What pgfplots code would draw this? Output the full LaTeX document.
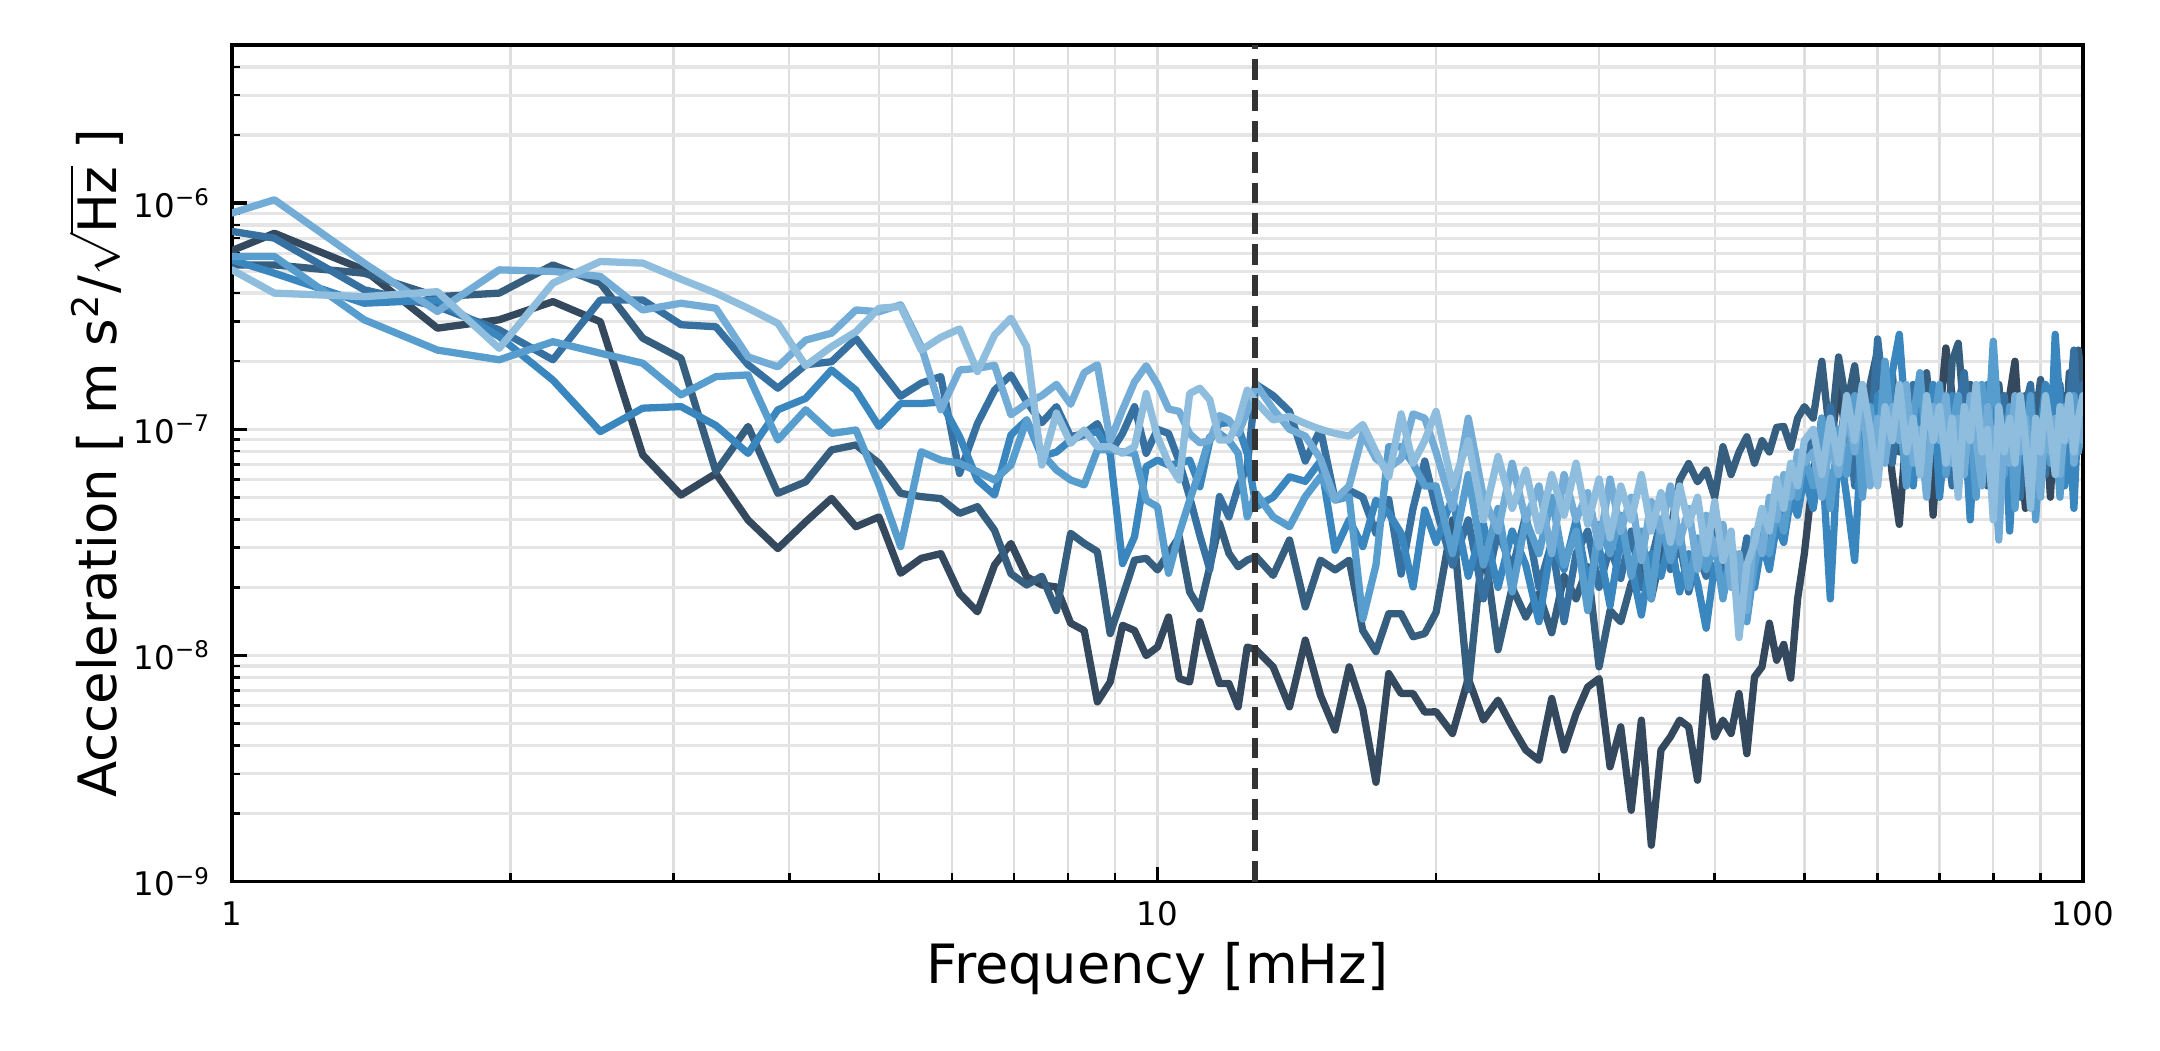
\documentclass[border=0pt]{standalone}
\usepackage{pgfplots}
\pgfplotsset{compat=1.18}
\usepackage{pgfplotstable}
\usepackage{fontspec}
\setmainfont{DejaVu Sans}
\definecolor{c1}{HTML}{34495E}
\definecolor{c2}{HTML}{365F7F}
\definecolor{c3}{HTML}{3671A2}
\definecolor{c4}{HTML}{3A87C0}
\definecolor{c5}{HTML}{579DCE}
\definecolor{c6}{HTML}{73ADD7}
\definecolor{c7}{HTML}{8FBDDD}
\newcommand{\tsup}[1]{\textsuperscript{\fontsize{5.5}{6}\selectfont #1}}
\pgfplotstableread{
f s1 s2 s3 s4 s5 s6 s7
1.000 6.17e-7 5.33e-7 7.50e-7 5.61e-7 5.81e-7 9.04e-7 5.07e-7
1.111 7.36e-7 5.33e-7 7.00e-7 4.90e-7 5.81e-7 1.035e-6 4.00e-7
1.389 5.07e-7 4.90e-7 4.14e-7 3.61e-7 3.05e-7 5.43e-7 3.86e-7
1.667 2.80e-7 3.86e-7 3.49e-7 3.73e-7 2.24e-7 3.32e-7 4.06e-7
1.944 3.05e-7 4.00e-7 2.75e-7 2.57e-7 2.03e-7 5.07e-7 2.28e-7
2.222 3.67e-7 5.33e-7 2.03e-7 1.65e-7 2.44e-7 4.99e-7 4.43e-7
2.500 2.99e-7 4.43e-7 3.73e-7 9.77e-8 2.17e-7 4.74e-7 5.52e-7
2.778 7.71e-8 2.53e-7 3.73e-7 1.24e-7 1.96e-7 3.37e-7 5.43e-7
3.056 5.12e-8 2.06e-7 2.90e-7 1.26e-7 1.42e-7 3.61e-7 4.61e-7
3.333 6.38e-8 6.49e-8 2.84e-7 1.04e-7 1.71e-7 3.43e-7 4.00e-7
3.611 3.97e-8 1.03e-7 1.93e-7 7.83e-8 1.74e-7 2.09e-7 3.43e-7
3.889 2.97e-8 5.21e-8 1.52e-7 1.22e-7 8.97e-8 1.89e-7 2.94e-7
4.167 3.90e-8 5.86e-8 1.93e-7 1.37e-7 1.22e-7 2.48e-7 1.91e-7
4.444 4.95e-8 8.11e-8 1.99e-7 1.83e-7 9.59e-8 2.66e-7 2.32e-7
4.722 3.71e-8 8.53e-8 2.52e-7 1.49e-7 9.93e-8 3.37e-7 2.70e-7
5.000 4.10e-8 7.08e-8 1.86e-7 1.03e-7 5.68e-8 3.31e-7 3.43e-7
5.278 2.31e-8 5.21e-8 1.40e-7 1.30e-7 3.03e-8 3.55e-7 3.49e-7
5.556 2.69e-8 5.04e-8 1.60e-7 1.30e-7 7.96e-8 2.32e-7 2.24e-7
5.833 2.82e-8 4.94e-8 1.71e-7 1.32e-7 7.31e-8 1.22e-7 2.55e-7
6.111 1.88e-8 4.25e-8 6.38e-8 9.29e-8 7.08e-8 1.83e-7 2.78e-7
6.389 1.56e-8 4.55e-8 1.06e-7 5.97e-8 6.50e-8 1.86e-7 1.80e-7
6.667 2.51e-8 3.58e-8 1.49e-7 5.12e-8 5.97e-8 1.92e-7 2.61e-7
6.944 3.13e-8 2.30e-8 1.74e-7 9.44e-8 6.95e-8 1.16e-7 3.10e-7
7.222 2.23e-8 2.05e-8 1.32e-7 1.10e-7 1.10e-7 1.30e-7 2.32e-7
7.500 2.05e-8 2.24e-8 1.07e-7 7.59e-8 7.83e-8 1.41e-7 6.95e-8
7.778 2.01e-8 1.58e-8 1.26e-7 7.94e-8 6.61e-8 1.58e-7 1.18e-7
8.056 1.39e-8 3.47e-8 9.27e-8 8.97e-8 5.97e-8 1.29e-7 8.67e-8
8.333 1.29e-8 3.13e-8 9.59e-8 9.44e-8 5.68e-8 1.78e-7 9.93e-8
8.611 6.24e-9 2.88e-8 1.06e-7 9.77e-8 8.11e-8 1.93e-7 8.38e-8
8.889 7.64e-9 1.25e-8 7.83e-8 7.83e-8 8.13e-8 8.91e-8 8.38e-8
9.167 1.36e-8 1.82e-8 9.59e-8 2.55e-8 7.94e-8 1.22e-7 7.83e-8
9.444 1.29e-8 2.64e-8 1.26e-7 3.35e-8 7.83e-8 1.62e-7 8.38e-8
9.722 1.00e-8 2.69e-8 7.83e-8 6.84e-8 4.86e-8 1.91e-7 1.44e-7
10.000 1.09e-8 2.39e-8 1.00e-7 7.31e-8 4.54e-8 1.58e-7 9.27e-8
10.278 1.48e-8 2.83e-8 9.59e-8 6.95e-8 2.31e-8 1.23e-7 7.08e-8
10.556 7.91e-9 3.35e-8 7.19e-8 7.08e-8 3.47e-8 1.20e-7 5.97e-8
10.833 7.64e-9 1.91e-8 5.01e-8 7.31e-8 4.86e-8 9.55e-8 1.44e-7
11.111 1.41e-8 1.61e-8 3.39e-8 5.57e-8 6.61e-8 8.71e-8 1.52e-7
11.389 1.02e-8 2.47e-8 2.40e-8 8.91e-8 9.27e-8 8.91e-8 1.35e-7
11.667 7.52e-9 3.84e-8 5.04e-8 1.06e-7 9.59e-8 1.15e-7 8.97e-8
11.944 7.52e-9 2.83e-8 4.10e-8 1.07e-7 8.91e-8 1.10e-7 8.97e-8
12.222 5.93e-9 2.47e-8 5.57e-8 1.03e-7 7.83e-8 9.55e-8 1.08e-7
12.500 1.09e-8 2.64e-8 6.84e-8 7.83e-8 4.10e-8 1.20e-7 1.49e-7
12.778 1.06e-8 2.74e-8 1.58e-7 4.54e-8 5.21e-8 1.58e-7 1.32e-7
13.333 8.91e-9 2.26e-8 1.41e-7 5.01e-8 4.10e-8 1.23e-7 1.10e-7
13.889 5.93e-9 3.24e-8 1.20e-7 6.17e-8 3.71e-8 1.00e-7 1.14e-7
14.444 1.17e-8 1.64e-8 7.24e-8 5.89e-8 5.04e-8 9.33e-8 1.06e-7
15.000 6.67e-9 2.64e-8 1.00e-7 7.24e-8 6.17e-8 7.41e-8 1.00e-7
15.556 4.68e-9 2.39e-8 4.90e-8 2.92e-8 4.86e-8 4.90e-8 9.59e-8
16.111 8.91e-9 2.64e-8 5.37e-8 3.98e-8 5.04e-8 5.62e-8 9.33e-8
16.667 5.82e-9 1.29e-8 5.01e-8 3.03e-8 1.45e-8 9.55e-8 1.05e-7
17.222 2.75e-9 1.04e-8 3.47e-8 4.86e-8 2.51e-8 7.41e-8 7.94e-8
17.778 8.32e-9 1.53e-8 4.90e-8 4.25e-8 8.38e-8 6.76e-8 6.17e-8
18.333 6.79e-9 1.53e-8 2.29e-8 3.47e-8 8.38e-8 7.41e-8 1.17e-7
18.889 6.79e-9 1.21e-8 4.47e-8 2.01e-8 7.06e-8 1.17e-7 7.08e-8
19.444 5.62e-9 1.25e-8 7.24e-8 4.40e-8 5.62e-8 1.12e-7 8.91e-8
20.000 5.64e-9 1.55e-8 4.47e-8 3.16e-8 5.62e-8 7.94e-8 1.20e-7
20.833 4.52e-9 3.98e-8 2.51e-8 5.01e-8 2.82e-8 4.47e-8 5.62e-8
21.667 7.91e-9 7.08e-9 3.98e-8 2.24e-8 6.31e-8 1.12e-7 8.91e-8
22.500 5.18e-9 3.24e-8 1.78e-8 3.80e-8 2.51e-8 5.01e-8 3.98e-8
23.333 6.35e-9 1.06e-8 3.55e-8 2.00e-8 4.47e-8 3.55e-8 7.59e-8
24.167 4.84e-9 2.00e-8 2.40e-8 3.55e-8 1.91e-8 7.08e-8 4.47e-8
25.000 3.82e-9 1.48e-8 4.17e-8 2.51e-8 3.98e-8 3.98e-8 6.61e-8
25.833 3.44e-9 1.88e-8 2.00e-8 1.41e-8 2.82e-8 5.62e-8 3.55e-8
26.667 6.46e-9 1.26e-8 3.16e-8 3.16e-8 5.01e-8 2.82e-8 6.31e-8
27.500 3.82e-9 2.24e-8 1.41e-8 2.40e-8 2.51e-8 6.31e-8 4.17e-8
28.333 5.53e-9 1.78e-8 2.82e-8 3.98e-8 3.55e-8 3.98e-8 7.08e-8
29.167 7.26e-9 2.47e-8 3.55e-8 2.09e-8 1.58e-8 5.25e-8 3.80e-8
30.000 7.91e-9 8.91e-9 2.00e-8 3.02e-8 3.80e-8 3.02e-8 6.03e-8
30.833 3.22e-9 1.58e-8 3.02e-8 1.66e-8 2.82e-8 6.03e-8 3.31e-8
31.667 4.84e-9 1.41e-8 2.19e-8 3.31e-8 4.17e-8 3.55e-8 5.62e-8
32.500 2.07e-9 2.08e-8 3.55e-8 2.51e-8 2.24e-8 5.01e-8 3.98e-8
33.333 5.18e-9 2.51e-8 2.00e-8 1.51e-8 3.55e-8 2.63e-8 6.31e-8
34.167 1.45e-9 1.78e-8 2.63e-8 2.82e-8 1.78e-8 4.79e-8 3.55e-8
35.000 3.82e-9 2.82e-8 3.98e-8 2.24e-8 3.98e-8 3.55e-8 5.25e-8
35.833 4.37e-9 3.55e-8 2.40e-8 3.31e-8 2.63e-8 5.62e-8 3.16e-8
36.667 5.18e-9 5.97e-8 3.16e-8 1.91e-8 3.55e-8 3.16e-8 5.62e-8
37.500 4.84e-9 7.06e-8 1.91e-8 2.82e-8 2.00e-8 4.47e-8 3.80e-8
38.333 2.81e-9 5.86e-8 2.82e-8 2.09e-8 3.31e-8 2.40e-8 5.01e-8
39.167 8.04e-9 6.61e-8 2.24e-8 1.32e-8 2.40e-8 4.17e-8 2.82e-8
40.000 4.37e-9 5.01e-8 3.55e-8 2.51e-8 3.16e-8 2.82e-8 4.79e-8
40.833 5.18e-9 8.38e-8 2.40e-8 2.00e-8 1.78e-8 3.80e-8 2.63e-8
41.667 4.52e-9 6.31e-8 3.16e-8 2.82e-8 2.82e-8 2.00e-8 3.55e-8
42.500 6.79e-9 7.94e-8 2.09e-8 1.78e-8 2.00e-8 2.82e-8 1.20e-8
43.333 3.68e-9 9.27e-8 3.31e-8 2.40e-8 1.41e-8 1.58e-8 2.51e-8
44.167 8.04e-9 7.08e-8 2.82e-8 2.00e-8 2.51e-8 3.55e-8 3.16e-8
45.000 8.91e-9 8.91e-8 3.98e-8 3.16e-8 3.55e-8 2.82e-8 4.47e-8
45.833 1.39e-8 7.94e-8 3.31e-8 2.40e-8 2.82e-8 5.01e-8 3.55e-8
46.667 9.53e-9 1.02e-7 5.01e-8 3.80e-8 4.47e-8 3.98e-8 6.03e-8
47.500 1.12e-8 1.03e-7 4.17e-8 3.16e-8 3.55e-8 6.31e-8 4.47e-8
48.333 7.94e-9 8.32e-8 6.03e-8 5.01e-8 5.62e-8 5.01e-8 7.08e-8
49.167 1.78e-8 1.12e-7 5.25e-8 4.17e-8 5.01e-8 7.94e-8 5.62e-8
50.000 2.82e-8 1.26e-7 7.94e-8 6.31e-8 7.59e-8 7.08e-8 8.91e-8
51.111 6.31e-8 1.12e-7 8.91e-8 4.47e-8 5.62e-8 7.94e-8 1.00e-7
52.222 1.12e-7 2.00e-7 6.31e-8 7.94e-8 1.12e-7 5.01e-8 6.31e-8
53.333 7.94e-8 8.91e-8 1.26e-7 1.78e-8 4.47e-8 8.91e-8 1.12e-7
54.444 1.58e-7 2.09e-7 7.94e-8 8.91e-8 1.00e-7 6.31e-8 7.08e-8
55.556 8.91e-8 1.26e-7 1.41e-7 5.01e-8 6.31e-8 1.26e-7 1.41e-7
56.667 1.78e-7 1.91e-7 5.62e-8 2.63e-8 1.41e-7 7.94e-8 8.91e-8
57.778 7.08e-8 1.00e-7 1.12e-7 1.12e-7 5.01e-8 1.41e-7 1.58e-7
58.889 1.41e-7 1.58e-7 7.94e-8 6.31e-8 1.26e-7 5.62e-8 1.00e-7
60.000 8.91e-8 2.24e-7 2.51e-7 1.41e-7 7.08e-8 1.12e-7 5.62e-8
61.111 1.26e-7 1.12e-7 1.26e-7 7.94e-8 2.00e-7 7.08e-8 1.26e-7
62.222 6.31e-8 1.78e-7 7.08e-8 1.78e-7 8.91e-8 1.26e-7 8.91e-8
63.333 3.80e-8 7.94e-8 1.41e-7 2.63e-7 1.26e-7 8.91e-8 1.58e-7
64.444 1.00e-7 1.41e-7 8.91e-8 1.00e-7 5.62e-8 1.58e-7 7.94e-8
65.556 1.41e-7 6.31e-8 1.58e-7 5.62e-8 1.12e-7 7.08e-8 1.12e-7
66.667 7.94e-8 1.26e-7 6.31e-8 1.26e-7 1.78e-7 1.00e-7 6.31e-8
67.778 1.26e-7 1.78e-7 1.00e-7 7.94e-8 7.94e-8 5.01e-8 1.41e-7
68.889 4.17e-8 8.91e-8 1.41e-7 1.58e-7 1.00e-7 1.26e-7 8.91e-8
70.000 1.12e-7 1.41e-7 7.94e-8 5.01e-8 1.58e-7 8.91e-8 1.26e-7
71.111 2.29e-7 7.08e-8 1.12e-7 1.00e-7 6.31e-8 1.41e-7 7.08e-8
72.222 1.41e-7 2.00e-7 5.62e-8 1.41e-7 1.00e-7 7.08e-8 1.12e-7
73.333 8.91e-8 2.40e-7 1.26e-7 7.08e-8 1.41e-7 1.12e-7 5.01e-8
74.444 1.58e-7 1.12e-7 1.78e-7 1.12e-7 7.08e-8 6.31e-8 1.26e-7
75.556 7.94e-8 1.58e-7 8.91e-8 3.98e-8 1.12e-7 1.41e-7 8.91e-8
76.667 1.26e-7 7.94e-8 1.41e-7 1.26e-7 5.01e-8 8.91e-8 1.58e-7
77.778 8.91e-8 1.32e-7 1.00e-7 7.94e-8 1.58e-7 5.62e-8 7.94e-8
78.889 1.12e-7 5.62e-8 6.31e-8 1.58e-7 8.91e-8 1.26e-7 1.00e-7
80.000 7.08e-8 1.12e-7 1.26e-7 1.00e-7 2.45e-7 7.94e-8 3.98e-8
81.111 1.05e-7 1.58e-7 8.91e-8 5.01e-8 1.00e-7 3.24e-8 1.26e-7
82.222 5.62e-8 8.91e-8 1.41e-7 1.12e-7 6.31e-8 1.00e-7 7.94e-8
83.333 1.41e-7 6.31e-8 7.94e-8 3.55e-8 1.26e-7 7.08e-8 1.12e-7
84.444 2.00e-7 1.26e-7 1.12e-7 8.91e-8 4.47e-8 1.41e-7 7.08e-8
85.556 8.91e-8 1.00e-7 5.01e-8 1.41e-7 1.12e-7 7.94e-8 1.41e-7
86.667 4.47e-8 1.41e-7 1.26e-7 7.08e-8 7.94e-8 1.12e-7 8.91e-8
87.778 1.00e-7 7.08e-8 1.58e-7 1.12e-7 1.41e-7 6.31e-8 4.47e-8
88.889 1.41e-7 1.12e-7 7.94e-8 5.01e-8 3.98e-8 8.91e-8 1.12e-7
90.000 7.94e-8 1.66e-7 1.12e-7 1.00e-7 8.91e-8 5.01e-8 7.94e-8
91.111 1.12e-7 8.91e-8 6.31e-8 1.58e-7 1.26e-7 1.26e-7 1.41e-7
92.222 5.01e-8 1.26e-7 1.41e-7 7.94e-8 7.08e-8 7.94e-8 1.00e-7
93.333 1.26e-7 6.31e-8 1.00e-7 2.63e-7 1.00e-7 1.12e-7 6.31e-8
94.444 8.91e-8 1.41e-7 1.58e-7 1.26e-7 5.01e-8 6.31e-8 1.26e-7
95.556 1.41e-7 7.94e-8 7.08e-8 5.62e-8 1.26e-7 1.00e-7 8.91e-8
96.667 7.08e-8 1.78e-7 1.26e-7 1.00e-7 8.91e-8 1.41e-7 1.41e-7
97.778 1.58e-7 1.12e-7 2.24e-7 4.47e-8 1.41e-7 7.08e-8 7.94e-8
98.889 2.00e-7 2.24e-7 1.00e-7 1.26e-7 7.94e-8 1.12e-7 1.12e-7
100.000 1.26e-7 1.41e-7 1.58e-7 8.91e-8 1.12e-7 8.91e-8 1.41e-7
}\psd
\begin{document}
\begin{tikzpicture}
\path[use as bounding box] (-55.7pt,-40.4pt) rectangle (462.7pt,211.6pt);
\begin{axis}[
  at={(0,0)}, anchor=south west,
  scale only axis, width=444.2pt, height=200.8pt,
  xmode=log, ymode=log,
  xmin=1, xmax=100, ymin=1e-9, ymax=5e-6,
  xtick={1,10,100}, xticklabels={1,10,100},
  minor xtick={2,3,4,5,6,7,8,9,20,30,40,50,60,70,80,90},
  ytick={1e-9,1e-8,1e-7,1e-6},
  yticklabels={10\tsup{−9},10\tsup{−8},10\tsup{−7},10\tsup{−6}},
  minor ytick={2e-9,3e-9,4e-9,5e-9,6e-9,7e-9,8e-9,9e-9,2e-8,3e-8,4e-8,5e-8,6e-8,7e-8,8e-8,9e-8,2e-7,3e-7,4e-7,5e-7,6e-7,7e-7,8e-7,9e-7,2e-6,3e-6,4e-6},
  grid=both,
  major x grid style={black!13, line width=0.55pt},
  minor x grid style={black!13, line width=0.55pt},
  major y grid style={black!10, line width=0.8pt},
  minor y grid style={black!10, line width=0.8pt},
  tick align=inside, tick pos=left,
  major tick length=3.6pt, minor tick length=2pt,
  major tick style={black, line width=0.8pt},
  minor tick style={black, line width=0.6pt},
  axis line style={black, line width=0.8pt},
  tick label style={font=\fontsize{7.8}{9}\selectfont},
  xticklabel style={yshift=-1.2pt},
  yticklabel style={xshift=-1.5pt},
  every axis x label/.style={at={(axis description cs:0.5,0)}, anchor=base, yshift=-24.5pt, font=\fontsize{13}{15}\selectfont},
  every axis y label/.style={at={(axis description cs:0,0.5)}, xshift=-32.6pt, rotate=90, anchor=center, font=\fontsize{12.7}{15}\selectfont},
  xlabel={Frequency [mHz]},
  ylabel={Acceleration [ m s\textsuperscript{\fontsize{8.8}{10}\selectfont 2}/$\sqrt{\mbox{Hz}}$ ]},
  every axis plot/.append style={line width=1.75pt, line join=round, line cap=round},
]
\addplot[c1] table[x=f,y=s1] {\psd};
\addplot[c2] table[x=f,y=s2] {\psd};
\addplot[c3] table[x=f,y=s3] {\psd};
\addplot[c4] table[x=f,y=s4] {\psd};
\addplot[c5] table[x=f,y=s5] {\psd};
\addplot[c6] table[x=f,y=s6] {\psd};
\addplot[c7] table[x=f,y=s7] {\psd};
\addplot[black!80, line width=1.3pt, line cap=butt, dash pattern=on 5pt off 2.4pt] coordinates {(12.75,1e-9) (12.75,5e-6)};
\end{axis}
\end{tikzpicture}
\end{document}
